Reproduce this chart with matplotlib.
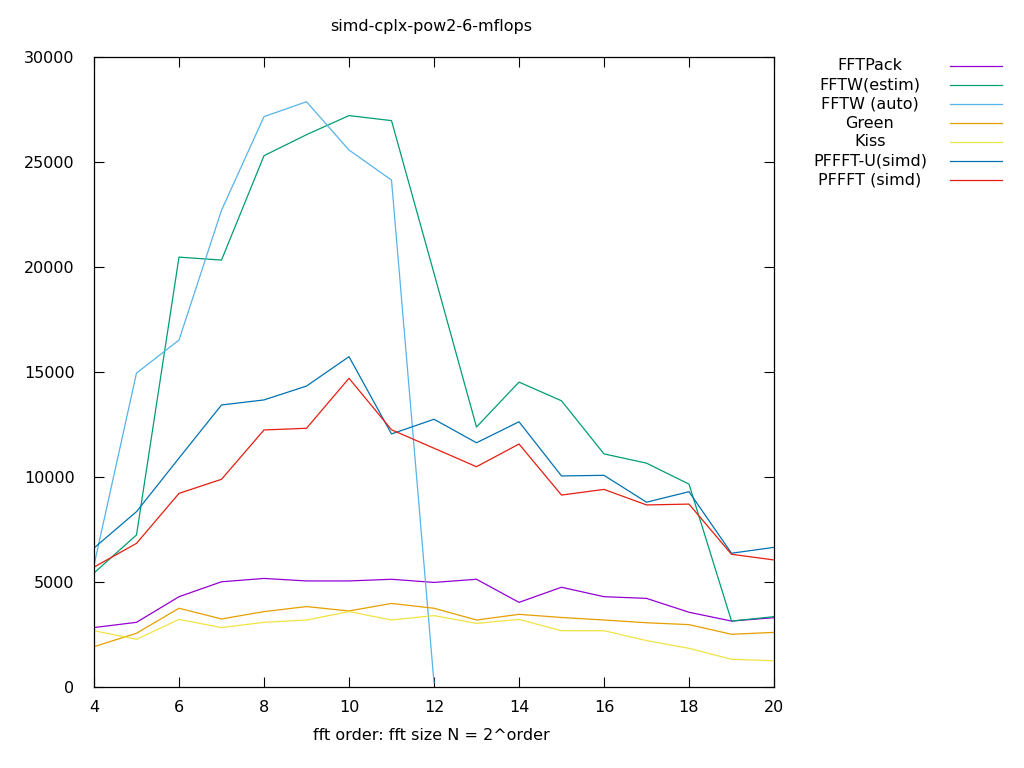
import matplotlib
matplotlib.use("Agg")
import matplotlib.pyplot as plt
from matplotlib.lines import Line2D

plt.rcParams['font.family'] = ['DejaVu Sans']
plt.rcParams['font.size'] = 11.5

# fft order on x axis
order = list(range(4, 21))

# values (mflops)
fftpack = [2830, 3080, 4300, 5010, 5170, 5050, 5050, 5130, 4980, 5130,
           4030, 4750, 4300, 4220, 3560, 3140, 3300]
fftw_estim = [5430, 7240, 20470, 20330, 25300, 26300, 27210, 26970, 19700,
              12380, 14520, 13630, 11100, 10660, 9660, 3140, 3350]
fftw_auto = [5800, 14950, 16520, 22700, 27160, 27870, 25570, 24140, 200]
green = [1920, 2560, 3750, 3240, 3590, 3830, 3620, 3980, 3750, 3190,
         3460, 3310, 3190, 3060, 2970, 2510, 2600]
kiss = [2680, 2270, 3220, 2830, 3080, 3190, 3590, 3190, 3400, 3030,
        3220, 2680, 2680, 2210, 1840, 1320, 1250]
pffft_u = [6620, 8350, 10900, 13430, 13670, 14330, 15730, 12050, 12750,
           11630, 12630, 10050, 10080, 8800, 9300, 6370, 6650]
pffft = [5710, 6840, 9220, 9890, 12240, 12320, 14700, 12250, 11370, 10490,
         11570, 9140, 9410, 8670, 8710, 6320, 6050]

labels = ["FFTPack", "FFTW(estim)", "FFTW (auto)", "Green", "Kiss",
          "PFFFT-U(simd)", "PFFFT (simd)"]
colors = ["#9400D3", "#009E73", "#56B4E9", "#E69F00", "#F0E442",
          "#0072B2", "#E51E10"]
series = [fftpack, fftw_estim, fftw_auto, green, kiss, pffft_u, pffft]

fig = plt.figure(figsize=(10.24, 7.68), dpi=100)
ax = fig.add_axes([94/1024, 81/768, 680/1024, 630/768])

for vals, col in zip(series, colors):
    ax.plot(order[:len(vals)], vals, color=col, lw=0.9)

ax.set_xlim(4, 20)
ax.set_ylim(0, 30000)
ax.set_xticks(range(4, 21, 2))
ax.set_yticks(range(0, 30001, 5000))
ax.tick_params(direction='in', length=7, width=0.8, top=True, right=True,
               colors='black')
ax.tick_params(axis='x', pad=9)
ax.tick_params(axis='y', pad=14)
for s in ax.spines.values():
    s.set_linewidth(0.9)

fig.text(431/1024, 1 - 27/768, "simd-cplx-pow2-6-mflops", ha='center', va='center')
fig.text(431/1024, 1 - 735/768, "fft order: fft size N = 2^order", ha='center', va='center')

# gnuplot-style key: centred text, line sample to the right
for i, (lab, col) in enumerate(zip(labels, colors)):
    y = 1 - (66 + 19*i)/768
    fig.text(870/1024, y, lab, ha='center', va='center')
    fig.add_artist(Line2D([950/1024, 1002/1024], [y, y], color=col, lw=0.9,
                          transform=fig.transFigure))

fig.savefig("out.png", dpi=100)
